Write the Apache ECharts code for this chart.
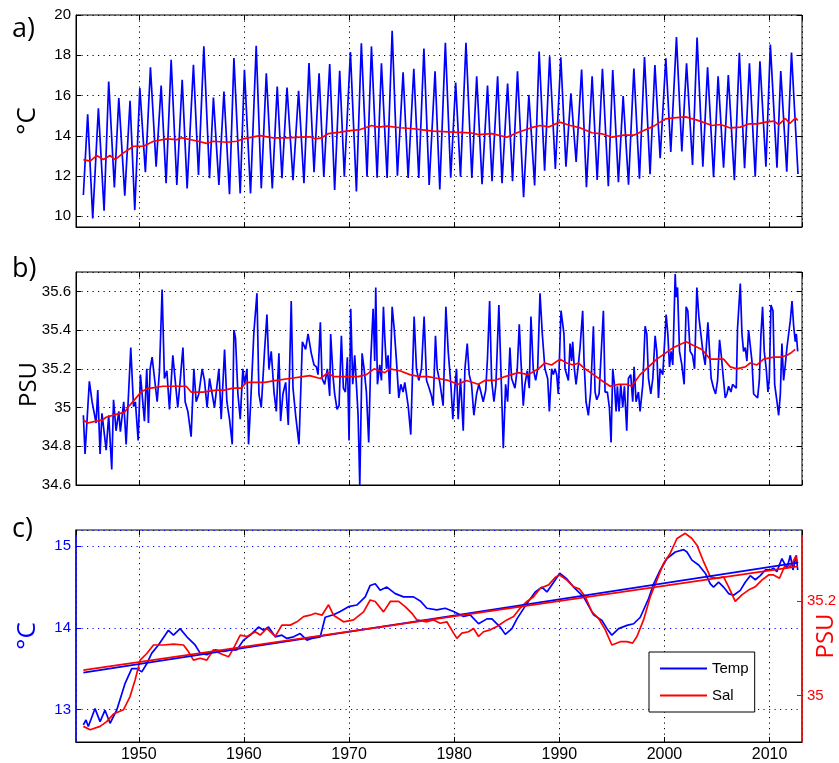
<!DOCTYPE html>
<html><head><meta charset="utf-8">
<script src="https://cdn.jsdelivr.net/npm/echarts@6/dist/echarts.min.js"></script>
<style>html,body{margin:0;padding:0;background:#fff}#c{width:839px;height:763px}</style>
</head><body><div id="c"></div>
<script>
// ---------- DATA (decimal year, value) ----------
const panelATemp = [[1944.73,11.06],[1945.14,15.07],[1945.62,9.9],[1946.16,15.37],[1946.7,10.28],[1947.14,16.7],[1947.68,11.43],[1948.1,15.87],[1948.67,11.03],[1949.17,15.74],[1949.62,10.31],[1950.1,16.37],[1950.63,12.19],[1951.11,17.4],[1951.65,12.47],[1952.13,16.5],[1952.6,11.64],[1953.08,17.78],[1953.62,11.56],[1954.13,16.78],[1954.6,11.39],[1955.2,17.53],[1955.68,12.06],[1956.19,18.44],[1956.73,11.89],[1957.1,15.9],[1957.62,11.56],[1958.1,16.2],[1958.63,11.1],[1959.05,17.86],[1959.65,11.14],[1960.05,17.28],[1960.63,11.14],[1961.17,18.47],[1961.65,11.39],[1962.13,17.11],[1962.7,11.39],[1963.17,16.45],[1963.62,11.89],[1964.1,16.4],[1964.67,11.8],[1965.2,16.24],[1965.71,11.64],[1966.19,17.61],[1966.67,12.19],[1967.15,17.1],[1967.6,11.95],[1968.16,17.56],[1968.63,11.31],[1969.11,17.23],[1969.55,11.97],[1970.13,18.16],[1970.7,11.23],[1971.17,18.6],[1971.71,11.97],[1972.13,18.44],[1972.67,11.92],[1973.08,17.6],[1973.62,11.9],[1974.1,19.22],[1974.6,12.02],[1975.14,17.15],[1975.62,11.9],[1976.16,17.33],[1976.63,11.9],[1977.12,18.33],[1977.62,11.56],[1978.18,17.21],[1978.63,11.34],[1979.16,18.62],[1979.67,11.92],[1980.14,16.65],[1980.6,11.97],[1981.12,18.62],[1981.68,11.9],[1982.14,16.96],[1982.65,11.6],[1983.17,16.5],[1983.6,11.75],[1984.13,16.96],[1984.55,11.65],[1985.08,16.6],[1985.55,11.75],[1986.02,17.2],[1986.6,10.95],[1987.1,16.03],[1987.65,11.53],[1988.08,18.18],[1988.6,12.27],[1989.08,17.95],[1989.62,12.35],[1990.14,17.9],[1990.63,12.47],[1991.1,16.11],[1991.6,12.7],[1992.12,17.29],[1992.58,11.45],[1993.12,16.96],[1993.6,11.81],[1994.1,17.33],[1994.66,11.49],[1995.08,17.27],[1995.62,11.7],[1996.07,15.97],[1996.58,11.57],[1997.09,17.34],[1997.62,11.87],[1998.1,17.91],[1998.63,12.09],[1999.09,17.52],[1999.59,12.89],[2000.13,17.85],[2000.6,13.2],[2001.14,18.9],[2001.65,13.22],[2002.1,17.6],[2002.67,12.55],[2003.1,18.88],[2003.65,12.47],[2004.1,17.4],[2004.67,11.94],[2005.1,16.95],[2005.62,12.42],[2006.07,17.02],[2006.65,11.8],[2007.12,18.12],[2007.62,12.39],[2008.08,17.6],[2008.63,11.97],[2009.08,17.7],[2009.65,12.47],[2010.07,18.53],[2010.7,12.42],[2011.06,17.22],[2011.63,12.22],[2012.08,18.14],[2012.7,12.1]];

const panelATempMean = [[1944.73,12.82],[1945.37,12.74],[1946.0,13.02],[1946.63,12.82],[1947.27,13.02],[1947.75,12.82],[1948.54,13.15],[1949.5,13.48],[1950.45,13.48],[1951.4,13.73],[1952.67,13.85],[1953.62,13.81],[1954.1,13.9],[1955.2,13.78],[1956.47,13.62],[1957.1,13.73],[1958.37,13.68],[1959.32,13.73],[1959.95,13.85],[1960.9,13.95],[1961.53,14.01],[1962.8,13.9],[1964.07,13.9],[1965.34,13.93],[1966.29,13.95],[1966.77,13.85],[1967.4,13.9],[1968.04,14.11],[1969.15,14.18],[1970.1,14.26],[1971.05,14.31],[1972.16,14.51],[1972.8,14.43],[1973.59,14.48],[1974.86,14.4],[1976.13,14.35],[1976.77,14.31],[1978.04,14.23],[1979.94,14.18],[1981.52,14.15],[1982.32,14.06],[1983.59,14.11],[1985.01,13.93],[1985.97,14.15],[1987.24,14.39],[1988.19,14.51],[1988.98,14.44],[1990.03,14.68],[1991.04,14.51],[1992.0,14.39],[1993.1,14.15],[1994.06,14.1],[1995.0,13.93],[1996.13,14.03],[1997.08,14.03],[1998.03,14.26],[1998.98,14.48],[2000.09,14.84],[2000.88,14.89],[2002.0,14.94],[2003.1,14.78],[2004.53,14.51],[2005.32,14.56],[2006.27,14.39],[2007.22,14.43],[2008.02,14.59],[2008.81,14.59],[2009.76,14.69],[2010.4,14.73],[2010.87,14.56],[2011.5,14.86],[2011.92,14.61],[2012.46,14.89],[2012.68,14.76]];

const panelBSal = [[1944.73,34.96],[1944.89,34.76],[1945.3,35.135],[1945.56,35.03],[1945.94,34.92],[1946.1,35.09],[1946.32,34.76],[1946.5,34.97],[1946.9,34.78],[1947.14,34.96],[1947.43,34.68],[1947.6,35.04],[1947.84,34.88],[1948.1,34.98],[1948.25,34.875],[1948.57,35.03],[1948.8,34.81],[1949.0,35.04],[1949.24,35.31],[1949.5,35.005],[1949.68,35.03],[1949.94,34.83],[1950.16,35.17],[1950.3,35.17],[1950.54,34.93],[1950.76,35.2],[1950.92,34.92],[1951.08,35.2],[1951.27,35.26],[1951.5,35.15],[1951.75,35.03],[1951.97,35.19],[1952.22,35.61],[1952.44,35.15],[1952.67,35.19],[1952.92,34.99],[1953.24,35.27],[1953.5,35.12],[1953.71,35.0],[1953.94,35.14],[1954.2,35.31],[1954.41,35.03],[1954.67,34.98],[1954.98,34.85],[1955.24,35.2],[1955.46,35.03],[1955.71,35.07],[1956.03,35.2],[1956.25,35.14],[1956.5,35.0],[1956.73,35.15],[1956.98,35.07],[1957.2,35.0],[1957.62,35.2],[1957.84,34.94],[1958.16,35.3],[1958.38,35.03],[1958.63,34.94],[1958.89,34.81],[1959.05,35.4],[1959.2,35.36],[1959.43,35.07],[1959.65,34.94],[1959.9,35.2],[1960.06,35.12],[1960.29,35.2],[1960.44,34.81],[1960.63,35.01],[1960.95,35.39],[1961.24,35.59],[1961.43,35.07],[1961.65,35.0],[1961.97,35.3],[1962.19,35.48],[1962.38,35.2],[1962.6,35.29],[1962.86,35.08],[1963.08,34.98],[1963.33,35.28],[1963.49,34.93],[1963.71,35.07],[1963.97,35.13],[1964.22,34.91],[1964.5,35.55],[1964.67,35.1],[1964.92,34.96],[1965.24,34.81],[1965.56,35.34],[1965.87,35.3],[1966.1,35.38],[1966.41,35.28],[1966.67,35.22],[1966.89,35.21],[1967.05,35.17],[1967.27,35.44],[1967.43,35.15],[1967.68,35.12],[1967.94,35.2],[1968.16,35.06],[1968.25,35.38],[1968.48,35.16],[1968.63,35.07],[1968.86,34.99],[1969.05,35.01],[1969.27,35.37],[1969.46,35.1],[1969.65,35.08],[1969.84,35.26],[1970.0,34.83],[1970.16,35.51],[1970.35,35.12],[1970.54,35.27],[1970.73,35.09],[1970.86,34.96],[1971.02,34.6],[1971.24,35.28],[1971.43,35.2],[1971.65,35.08],[1971.87,34.82],[1972.06,35.24],[1972.29,35.51],[1972.44,35.24],[1972.54,35.62],[1972.7,35.12],[1972.92,35.22],[1973.08,35.14],[1973.27,35.52],[1973.4,35.36],[1973.56,35.2],[1973.71,35.27],[1973.87,35.07],[1974.1,35.52],[1974.29,35.41],[1974.51,35.24],[1974.73,35.05],[1974.92,35.12],[1975.14,35.08],[1975.3,35.13],[1975.46,35.07],[1975.62,35.01],[1975.87,34.86],[1976.19,35.47],[1976.41,35.2],[1976.63,35.14],[1976.89,35.2],[1977.14,35.47],[1977.37,35.14],[1977.62,35.1],[1977.84,35.06],[1978.0,35.01],[1978.22,35.37],[1978.38,35.2],[1978.63,35.13],[1978.95,35.01],[1979.21,35.52],[1979.43,35.29],[1979.68,35.12],[1979.87,34.94],[1980.06,35.1],[1980.22,35.2],[1980.38,34.94],[1980.6,35.15],[1980.86,34.88],[1981.02,35.2],[1981.24,35.33],[1981.43,35.17],[1981.65,35.12],[1981.87,34.96],[1982.13,35.07],[1982.35,35.12],[1982.54,35.08],[1982.76,35.03],[1983.0,35.09],[1983.17,35.26],[1983.37,35.55],[1983.56,35.14],[1983.78,35.03],[1983.97,35.12],[1984.25,35.53],[1984.44,35.2],[1984.67,34.79],[1984.89,35.12],[1985.08,35.03],[1985.3,35.31],[1985.46,35.15],[1985.78,35.1],[1986.0,35.2],[1986.19,35.43],[1986.35,35.24],[1986.57,35.01],[1986.73,35.12],[1986.95,35.19],[1987.14,35.1],[1987.3,35.47],[1987.52,35.2],[1987.75,35.14],[1987.94,35.2],[1988.16,35.59],[1988.38,35.38],[1988.63,35.2],[1988.89,35.15],[1989.05,34.98],[1989.27,35.2],[1989.43,35.17],[1989.59,35.2],[1989.75,35.17],[1989.9,35.07],[1990.16,35.5],[1990.44,35.38],[1990.54,35.2],[1990.7,35.19],[1990.86,35.14],[1991.02,35.33],[1991.17,35.24],[1991.27,35.34],[1991.43,35.2],[1991.59,35.12],[1991.81,35.22],[1991.97,35.31],[1992.22,35.5],[1992.35,35.24],[1992.54,35.03],[1992.76,34.96],[1992.98,35.08],[1993.24,35.42],[1993.4,35.08],[1993.56,35.04],[1993.78,35.07],[1993.94,35.08],[1994.19,35.5],[1994.35,35.08],[1994.57,35.08],[1994.76,35.0],[1994.92,34.82],[1995.08,35.2],[1995.24,35.12],[1995.4,34.98],[1995.52,35.11],[1995.68,34.98],[1995.84,35.12],[1996.03,35.0],[1996.19,35.11],[1996.41,34.88],[1996.57,35.15],[1996.79,35.17],[1996.98,35.03],[1997.11,35.21],[1997.3,35.03],[1997.52,35.08],[1997.68,34.98],[1997.94,35.12],[1998.16,35.42],[1998.32,35.38],[1998.48,35.15],[1998.7,35.07],[1998.89,35.15],[1999.11,35.37],[1999.27,35.29],[1999.43,35.05],[1999.59,35.2],[1999.84,35.17],[2000.16,35.48],[2000.32,35.38],[2000.48,35.21],[2000.63,35.29],[2000.79,35.22],[2001.02,35.69],[2001.11,35.57],[2001.24,35.62],[2001.43,35.29],[2001.65,35.22],[2001.87,35.12],[2002.06,35.52],[2002.22,35.5],[2002.44,35.29],[2002.67,35.27],[2002.86,35.2],[2003.08,35.62],[2003.27,35.47],[2003.46,35.38],[2003.65,35.29],[2003.87,35.22],[2004.13,35.44],[2004.29,35.29],[2004.44,35.15],[2004.67,35.1],[2004.86,35.07],[2005.05,35.14],[2005.24,35.35],[2005.4,35.27],[2005.62,35.14],[2005.78,35.05],[2005.94,35.07],[2006.1,35.11],[2006.32,35.08],[2006.48,35.12],[2006.63,35.12],[2006.83,35.1],[2006.95,35.41],[2007.21,35.64],[2007.37,35.38],[2007.52,35.29],[2007.68,35.31],[2007.84,35.24],[2008.0,35.4],[2008.16,35.4],[2008.32,35.24],[2008.48,35.07],[2008.63,35.08],[2008.86,35.05],[2009.02,35.14],[2009.17,35.37],[2009.33,35.52],[2009.49,35.29],[2009.68,35.2],[2009.84,35.08],[2009.97,35.15],[2010.13,35.53],[2010.32,35.5],[2010.48,35.12],[2010.7,35.03],[2010.86,34.96],[2011.02,35.07],[2011.17,35.33],[2011.33,35.14],[2011.49,35.22],[2011.65,35.31],[2011.81,35.31],[2011.97,35.45],[2012.13,35.55],[2012.29,35.42],[2012.44,35.34],[2012.54,35.38],[2012.67,35.29]];

const panelBSalMean = [[1944.73,34.936],[1945.14,34.92],[1945.94,34.93],[1946.57,34.936],[1946.89,34.95],[1947.84,34.965],[1948.63,34.975],[1949.11,35.01],[1949.75,35.05],[1950.22,35.08],[1950.86,35.1],[1951.17,35.1],[1952.29,35.11],[1953.56,35.11],[1954.51,35.11],[1954.98,35.08],[1956.1,35.08],[1957.37,35.09],[1958.16,35.09],[1958.95,35.1],[1959.75,35.1],[1960.22,35.13],[1961.33,35.13],[1961.97,35.13],[1963.08,35.14],[1964.35,35.15],[1965.62,35.16],[1966.25,35.165],[1967.27,35.15],[1968.0,35.18],[1968.48,35.16],[1969.59,35.16],[1970.86,35.16],[1971.65,35.17],[1972.38,35.2],[1973.4,35.18],[1973.87,35.2],[1974.83,35.19],[1975.78,35.17],[1976.73,35.16],[1977.52,35.16],[1978.48,35.15],[1979.43,35.14],[1980.38,35.12],[1981.17,35.14],[1982.29,35.12],[1982.92,35.14],[1983.87,35.14],[1984.83,35.16],[1985.46,35.17],[1986.1,35.18],[1987.05,35.17],[1988.0,35.2],[1988.63,35.23],[1989.27,35.22],[1990.06,35.25],[1990.7,35.23],[1991.33,35.22],[1991.81,35.23],[1992.44,35.2],[1993.24,35.17],[1994.03,35.14],[1994.83,35.11],[1995.62,35.12],[1996.41,35.12],[1996.89,35.11],[1997.68,35.17],[1998.48,35.21],[1999.27,35.25],[2000.06,35.28],[2000.86,35.31],[2002.06,35.34],[2002.76,35.32],[2003.56,35.3],[2004.35,35.25],[2005.14,35.25],[2005.62,35.25],[2006.25,35.21],[2006.89,35.2],[2007.68,35.21],[2008.16,35.23],[2008.79,35.22],[2009.43,35.25],[2010.38,35.26],[2011.02,35.26],[2011.65,35.27],[2011.97,35.28],[2012.44,35.3]];

const panelCTemp = [[1944.73,12.81],[1944.98,12.87],[1945.2,12.79],[1945.84,13.01],[1946.32,12.85],[1946.79,12.99],[1947.27,12.83],[1947.9,12.99],[1948.7,13.32],[1949.33,13.5],[1949.81,13.5],[1950.29,13.46],[1950.76,13.56],[1951.24,13.69],[1951.87,13.79],[1952.5,13.91],[1952.82,13.97],[1953.3,13.91],[1953.93,13.99],[1954.57,13.89],[1955.36,13.79],[1955.84,13.69],[1956.47,13.67],[1957.27,13.73],[1958.06,13.71],[1958.7,13.73],[1959.33,13.73],[1959.97,13.85],[1960.6,13.91],[1961.39,14.01],[1961.87,13.97],[1962.34,14.01],[1962.98,13.89],[1963.61,13.91],[1964.09,13.87],[1964.72,13.89],[1965.35,13.93],[1965.99,13.85],[1966.46,13.87],[1967.26,13.89],[1967.73,14.13],[1968.52,14.16],[1969.16,14.2],[1969.95,14.26],[1970.74,14.28],[1971.54,14.38],[1972.01,14.52],[1972.49,14.54],[1972.96,14.46],[1973.6,14.5],[1974.39,14.42],[1975.18,14.38],[1976.13,14.38],[1976.77,14.33],[1977.4,14.24],[1978.35,14.22],[1979.14,14.24],[1979.94,14.2],[1980.89,14.14],[1981.52,14.16],[1982.32,14.05],[1983.11,14.11],[1983.59,14.11],[1984.38,14.01],[1984.86,13.92],[1985.49,13.99],[1985.97,14.11],[1986.92,14.3],[1987.71,14.44],[1988.34,14.5],[1988.82,14.44],[1989.46,14.56],[1990.03,14.67],[1990.72,14.6],[1991.36,14.5],[1992.31,14.38],[1993.26,14.16],[1994.05,14.09],[1994.53,13.99],[1995.0,13.91],[1995.64,13.99],[1996.43,14.03],[1997.07,14.05],[1997.7,14.13],[1998.49,14.36],[1998.97,14.54],[1999.6,14.71],[2000.24,14.85],[2001.03,14.93],[2001.82,14.96],[2002.14,14.93],[2002.61,14.83],[2003.25,14.77],[2003.88,14.67],[2004.36,14.54],[2004.67,14.5],[2005.15,14.56],[2005.62,14.5],[2006.1,14.42],[2006.57,14.4],[2007.21,14.46],[2007.68,14.56],[2008.16,14.64],[2008.64,14.59],[2009.11,14.64],[2009.59,14.71],[2010.06,14.71],[2010.38,14.73],[2010.69,14.69],[2011.17,14.85],[2011.65,14.73],[2011.97,14.89],[2012.22,14.71],[2012.54,14.89],[2012.67,14.71]];

const panelCSal = [[1944.73,34.935],[1945.37,34.928],[1946.32,34.935],[1946.95,34.945],[1947.59,34.961],[1948.54,34.97],[1949.17,34.998],[1949.65,35.033],[1950.13,35.075],[1950.76,35.089],[1951.4,35.107],[1952.35,35.107],[1953.3,35.109],[1954.25,35.107],[1954.72,35.093],[1955.2,35.075],[1955.84,35.079],[1956.47,35.075],[1957.1,35.097],[1957.74,35.089],[1958.54,35.082],[1959.01,35.1],[1959.65,35.128],[1960.28,35.125],[1961.08,35.135],[1961.55,35.128],[1962.18,35.142],[1962.98,35.125],[1963.61,35.149],[1964.41,35.149],[1965.04,35.156],[1965.67,35.167],[1966.3,35.17],[1966.78,35.174],[1967.42,35.17],[1968.05,35.192],[1968.52,35.17],[1969.48,35.156],[1970.43,35.16],[1971.38,35.177],[1972.01,35.202],[1972.49,35.199],[1973.28,35.177],[1973.92,35.199],[1974.71,35.199],[1975.34,35.188],[1975.98,35.174],[1976.45,35.16],[1977.4,35.156],[1978.04,35.16],[1978.67,35.153],[1979.3,35.156],[1979.94,35.132],[1980.26,35.121],[1980.73,35.132],[1981.36,35.135],[1981.84,35.142],[1982.32,35.125],[1982.79,35.135],[1983.43,35.139],[1984.06,35.146],[1985.01,35.16],[1985.65,35.167],[1986.28,35.185],[1986.92,35.199],[1987.55,35.209],[1988.19,35.227],[1988.98,35.234],[1989.62,35.25],[1990.03,35.255],[1990.72,35.244],[1991.36,35.23],[1991.93,35.225],[1992.47,35.209],[1993.1,35.177],[1993.74,35.163],[1994.37,35.139],[1995.0,35.107],[1995.79,35.114],[1996.43,35.114],[1996.97,35.111],[1997.38,35.125],[1998.01,35.16],[1998.65,35.209],[1999.28,35.244],[1999.92,35.28],[2000.55,35.301],[2001.19,35.332],[2001.98,35.343],[2002.61,35.332],[2003.09,35.318],[2003.72,35.283],[2004.36,35.251],[2004.99,35.248],[2005.62,35.251],[2006.1,35.23],[2006.73,35.199],[2007.36,35.213],[2007.99,35.223],[2008.63,35.23],[2009.26,35.244],[2009.9,35.255],[2010.37,35.255],[2010.94,35.248],[2011.48,35.276],[2012.0,35.273],[2012.48,35.294],[2012.67,35.28]];

const tempTrend = [[1944.73,13.45],[2012.7,14.8]];
const salTrend = [[1944.73,35.054],[2012.7,35.273]];

const legendNames = ['Temp', 'Sal'];
const panelLetters = ['a)', 'b)', 'c)'];

// ---------- CHART ----------
const BLUE = '#0000ff', RED = '#ff0000';
const TICKFONT = 'Liberation Sans';
const NAMEFONT = 'Open Sans';
const dotted = [1.2, 4.3];
const LW = 1.7;
const fmt = v => String(Math.round(v * 1000) / 1000);
const XMIN = 1944.03, XMAX = 2013.08;

const grids = [
  {left: 76, top: 15, width: 726, height: 212},
  {left: 76, top: 272, width: 726, height: 213},
  {left: 76, top: 530, width: 726, height: 212}
].map(g => Object.assign(g, {show: true, borderColor: '#000', borderWidth: 1, backgroundColor: '#fff', containLabel: false, outerBoundsMode: 'none'}));

function xAx(i) {
  return {
    type: 'value', gridIndex: i, min: XMIN, max: XMAX, position: 'bottom',
    axisLine: {show: true, lineStyle: {color: '#000', width: 1}},
    axisTick: {show: true, inside: true, length: 5, lineStyle: {color: '#000'}},
    axisLabel: {show: i === 2, showMinLabel: false, showMaxLabel: false, formatter: fmt,
      color: '#000', fontSize: 16, fontFamily: TICKFONT, margin: 5},
    splitLine: {show: true, lineStyle: {color: '#000', type: dotted, width: 1}}
  };
}
function xTop(i) {
  return {
    type: 'value', gridIndex: i, min: XMIN, max: XMAX, position: 'top',
    axisLine: {show: false}, axisTick: {show: true, inside: true, length: 5, lineStyle: {color: '#000'}},
    axisLabel: {show: false}, splitLine: {show: false}
  };
}
function yMirror(i, min, max, color) {
  return {
    type: 'value', gridIndex: i, min: min, max: max, position: 'right',
    axisLine: {show: false}, axisTick: {show: true, inside: true, length: 5, lineStyle: {color: color}},
    axisLabel: {show: false}, splitLine: {show: false}
  };
}

const option = {
  animation: false,
  backgroundColor: '#fff',
  grid: grids,
  xAxis: [xAx(0), xAx(1), xAx(2), xTop(0), xTop(1), xTop(2)],
  yAxis: [
    { // a
      type: 'value', gridIndex: 0, min: 9.47, max: 20, splitNumber: 5,
      name: '°C', nameLocation: 'middle', nameRotate: 90, nameGap: 35, nameMoveOverlap: false,
      nameTextStyle: {fontSize: 26, fontFamily: NAMEFONT, color: '#000'},
      axisLine: {show: true, lineStyle: {color: '#000'}},
      axisTick: {show: true, inside: true, length: 5, lineStyle: {color: '#000'}},
      axisLabel: {showMinLabel: false, formatter: fmt, color: '#000', fontSize: 15, fontFamily: TICKFONT, margin: 5},
      splitLine: {show: true, lineStyle: {color: '#000', type: dotted, width: 1}}
    },
    { // b
      type: 'value', gridIndex: 1, min: 34.6, max: 35.7, splitNumber: 5,
      name: 'PSU', nameLocation: 'middle', nameRotate: 90, nameGap: 35, nameMoveOverlap: false,
      nameTextStyle: {fontSize: 24, fontFamily: NAMEFONT, color: '#000', padding: [0, 12, 0, 0]},
      axisLine: {show: true, lineStyle: {color: '#000'}},
      axisTick: {show: true, inside: true, length: 5, lineStyle: {color: '#000'}},
      axisLabel: {showMaxLabel: false, formatter: fmt, color: '#000', fontSize: 15, fontFamily: TICKFONT, margin: 5},
      splitLine: {show: true, lineStyle: {color: '#000', type: dotted, width: 1}}
    },
    { // c left
      type: 'value', gridIndex: 2, min: 12.6, max: 15.2, splitNumber: 3,
      name: '°C', nameLocation: 'middle', nameRotate: 90, nameGap: 35, nameMoveOverlap: false,
      nameTextStyle: {fontSize: 26, fontFamily: NAMEFONT, color: BLUE},
      axisLine: {show: true, lineStyle: {color: BLUE, width: 1.5}},
      axisTick: {show: true, inside: true, length: 5, lineStyle: {color: BLUE}},
      axisLabel: {showMinLabel: false, showMaxLabel: false, formatter: fmt, color: BLUE, fontSize: 15, fontFamily: TICKFONT, margin: 5},
      splitLine: {show: true, lineStyle: {color: BLUE, type: dotted, width: 1}}
    },
    { // c right
      type: 'value', gridIndex: 2, min: 34.902, max: 35.35, splitNumber: 2, position: 'right',
      name: 'PSU', nameLocation: 'middle', nameRotate: 90, nameGap: 12, nameMoveOverlap: false,
      nameTextStyle: {fontSize: 24, fontFamily: NAMEFONT, color: RED},
      axisLine: {show: true, lineStyle: {color: RED, width: 1.5}},
      axisTick: {show: true, inside: true, length: 5, lineStyle: {color: RED}},
      axisLabel: {showMinLabel: false, showMaxLabel: false, formatter: fmt, color: RED, fontSize: 15, fontFamily: TICKFONT, margin: 5},
      splitLine: {show: false}
    },
    yMirror(0, 9.47, 20, '#000'),
    yMirror(1, 34.6, 35.7, '#000')
  ],
  legend: {
    data: legendNames, orient: 'vertical', left: 649, top: 652,
    padding: [9, 6, 9, 10], itemWidth: 47, itemHeight: 14, itemGap: 12,
    borderColor: '#000', borderWidth: 1, backgroundColor: '#fff',
    itemStyle: {opacity: 0, borderWidth: 0},
    textStyle: {color: '#000', fontSize: 15, fontFamily: TICKFONT},
    z: 20
  },
  graphic: [
    {type: 'text', left: 12, top: 16, style: {text: panelLetters[0], font: '27px "Open Sans"', fill: '#000'}},
    {type: 'text', left: 12, top: 256, style: {text: panelLetters[1], font: '27px "Open Sans"', fill: '#000'}},
    {type: 'text', left: 12, top: 516, style: {text: panelLetters[2], font: '27px "Open Sans"', fill: '#000'}}
  ],
  series: [
    {type: 'line', xAxisIndex: 0, yAxisIndex: 0, data: panelATemp, symbol: 'none', lineStyle: {color: BLUE, width: LW}, silent: true},
    {type: 'line', xAxisIndex: 0, yAxisIndex: 0, data: panelATempMean, symbol: 'none', lineStyle: {color: RED, width: LW}, silent: true},
    {type: 'line', xAxisIndex: 1, yAxisIndex: 1, data: panelBSal, symbol: 'none', lineStyle: {color: BLUE, width: LW}, silent: true},
    {type: 'line', xAxisIndex: 1, yAxisIndex: 1, data: panelBSalMean, symbol: 'none', lineStyle: {color: RED, width: LW}, silent: true},
    {name: 'Temp', type: 'line', xAxisIndex: 2, yAxisIndex: 2, data: panelCTemp, symbol: 'none', itemStyle: {color: BLUE}, lineStyle: {color: BLUE, width: LW}, silent: true},
    {name: 'Sal', type: 'line', xAxisIndex: 2, yAxisIndex: 3, data: panelCSal, symbol: 'none', itemStyle: {color: RED}, lineStyle: {color: RED, width: LW}, silent: true},
    {type: 'line', xAxisIndex: 2, yAxisIndex: 2, data: tempTrend, symbol: 'none', lineStyle: {color: BLUE, width: LW}, silent: true},
    {type: 'line', xAxisIndex: 2, yAxisIndex: 3, data: salTrend, symbol: 'none', lineStyle: {color: RED, width: LW}, silent: true}
  ]
};

const chart = echarts.init(document.getElementById('c'), null, {renderer: 'canvas'});
chart.setOption(option);
</script>
</body></html>
